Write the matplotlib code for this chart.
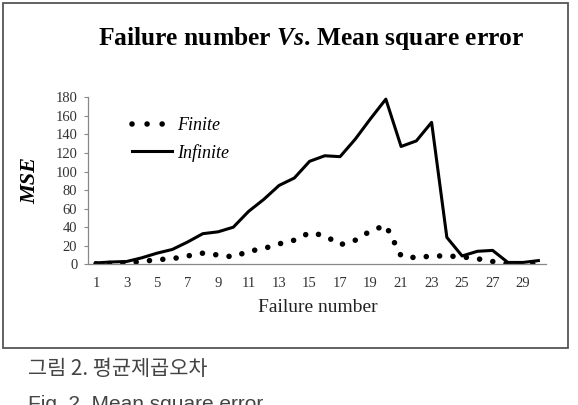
import numpy as np
import matplotlib
matplotlib.use("Agg")
import matplotlib.pyplot as plt
from matplotlib.lines import Line2D
from matplotlib.patches import Rectangle

failure = np.arange(1, 31)
finite = [0.5, 1, 1.5, 3, 5, 6, 9, 12, 10, 8,
          14, 17, 22, 26, 34, 31, 21, 26, 36, 42,
          9, 7, 9, 9, 8, 6, 3, 0.5, 0.5, 0.5]
infinite = [1.5, 2.5, 3, 7, 12, 16, 24, 33, 35, 40,
            57, 70, 85, 93, 111, 117, 116, 135, 157, 178,
            127, 133, 153, 29, 9, 14, 15, 2, 2, 4]
yticks = list(range(0, 181, 20))
xticks = list(range(1, 30, 2))

SERIF = ["Liberation Serif", "DejaVu Serif"]
KO = ["Noto Sans CJK KR", "DejaVu Sans"]
plt.rcParams["mathtext.fontset"] = "custom"
plt.rcParams["mathtext.it"] = "Liberation Serif:italic:bold"

fig = plt.figure(figsize=(5.78, 4.05), dpi=100)
fig.patches.append(Rectangle((3 / 578, 1 - 348 / 405), 565 / 578, 345 / 405,
                             transform=fig.transFigure, fill=False,
                             edgecolor="#555555", linewidth=1.3))

ax = fig.add_axes([88.4 / 578, 1 - 264.3 / 405, (546 - 88.4) / 578, (264.3 - 97.3) / 405])
dot_style = (0, (0.01, 2.4))
ax.plot(failure, finite, color="black", lw=4.0, linestyle=dot_style,
        dash_capstyle="round", label="Finite")
ax.plot(failure, infinite, color="black", lw=2.2, label="Infinite")
ax.set_xlim(0.5, 30.5)
ax.set_ylim(0, 180)
ax.set_yticks(yticks)
ax.set_xticks(xticks)
ax.tick_params(axis="x", length=0, pad=9, labelsize=10.5)
ax.tick_params(axis="y", length=3, color="#888888", pad=5, labelsize=10.5)
for lab in ax.get_xticklabels() + ax.get_yticklabels():
    lab.set_family(SERIF)
    lab.set_color("#333333")
for s in ("top", "right"):
    ax.spines[s].set_visible(False)
for s in ("left", "bottom"):
    ax.spines[s].set_color("#888888")
    ax.spines[s].set_linewidth(0.9)

# legend: three dots for Finite, short solid stroke for Infinite
handles = [Line2D([], [], color="black", lw=4.0, linestyle=(0, (0.01, 2.7)), dash_capstyle="round"),
           Line2D([], [], color="black", lw=2.2)]
ax.legend(handles, ["Finite", "Infinite"], loc="upper left", bbox_to_anchor=(0.06, 0.98),
          frameon=False, handlelength=2.2, handletextpad=0.3, labelspacing=0.55,
          prop={"family": SERIF, "style": "italic", "size": 13})

fig.text(311 / 578, 1 - 38 / 405, "Failure number $Vs$. Mean square error",
         ha="center", va="center", fontsize=18.4, fontweight="bold", family=SERIF)
fig.text(30 / 578, 1 - 181 / 405, "MSE", rotation=90, ha="center", va="center",
         fontsize=16, fontweight="bold", fontstyle="italic", family=SERIF)
fig.text(318 / 578, 1 - 308 / 405, "Failure number", ha="center", va="center",
         fontsize=14, family=SERIF, color="#222222")
fig.text(28 / 578, 1 - 369 / 405, "그림 2. 평균제곱오차", ha="left", va="center",
         fontsize=15, family=KO, color="#444444")
fig.text(28 / 578, 1 - 404 / 405, "Fig. 2. Mean square error", ha="left", va="center",
         fontsize=15, family=["Liberation Sans", "DejaVu Sans"], color="#444444")

fig.savefig("out.png", dpi=100)
